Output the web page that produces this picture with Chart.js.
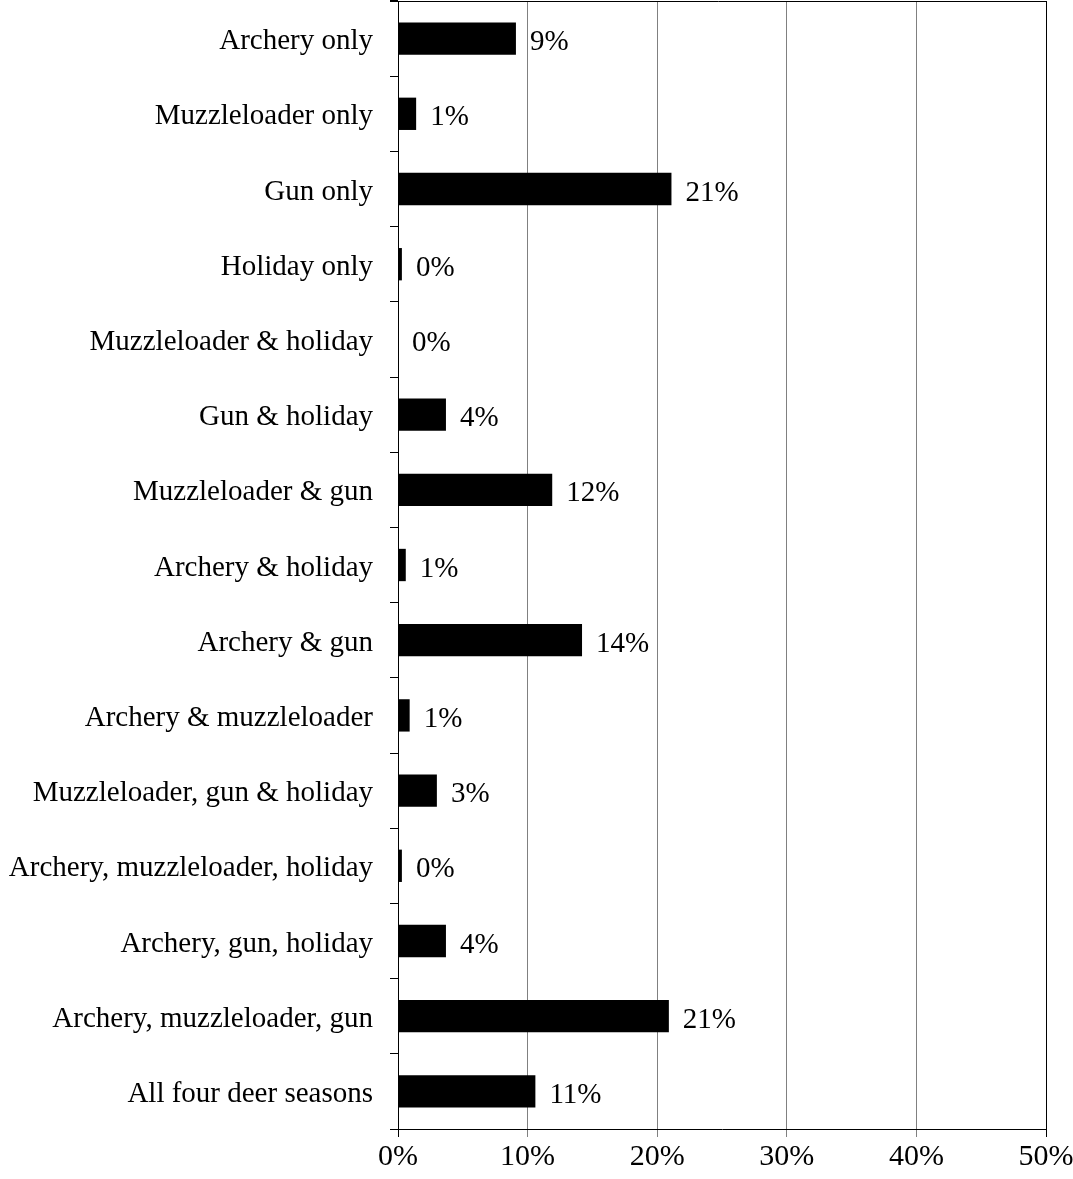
<!DOCTYPE html>
<html>
<head>
<meta charset="utf-8">
<script src="https://cdn.jsdelivr.net/npm/chart.js@4/dist/chart.umd.min.js"></script>
<style>
  body { margin: 0; background: #fff; }
  canvas { display: block; }
</style>
</head>
<body>
<canvas id="chart" width="1073" height="1179"></canvas>
<script>
// season combinations (top to bottom)
const categories = [
  'Archery only',
  'Muzzleloader only',
  'Gun only',
  'Holiday only',
  'Muzzleloader & holiday',
  'Gun & holiday',
  'Muzzleloader & gun',
  'Archery & holiday',
  'Archery & gun',
  'Archery & muzzleloader',
  'Muzzleloader, gun & holiday',
  'Archery, muzzleloader, holiday',
  'Archery, gun, holiday',
  'Archery, muzzleloader, gun',
  'All four deer seasons'
];

// percent of hunters
const shares = [9.1, 1.4, 21.1, 0.3, 0, 3.7, 11.9, 0.6, 14.2, 0.9, 3.0, 0.3, 3.7, 20.9, 10.6];

// printed value labels
const shareLabels = ['9%', '1%', '21%', '0%', '0%', '4%', '12%', '1%', '14%', '1%', '3%', '0%', '4%', '21%', '11%'];

const xTicks = [0, 10, 20, 30, 40, 50];

const FONT = '"Liberation Serif", "Times New Roman", serif';

// value labels to the right of each bar
const barLabels = {
  id: 'barLabels',
  afterDatasetsDraw(chart) {
    const {ctx} = chart;
    const meta = chart.getDatasetMeta(0);
    ctx.save();
    ctx.font = '29px ' + FONT;
    ctx.fillStyle = '#000';
    ctx.textAlign = 'left';
    ctx.textBaseline = 'middle';
    meta.data.forEach((bar, i) => {
      ctx.fillText(shareLabels[i], bar.x + 14, bar.y + 4);
    });
    ctx.restore();
  }
};

// top and right frame lines
const frame = {
  id: 'frame',
  afterDraw(chart) {
    const {ctx, chartArea: a} = chart;
    ctx.save();
    ctx.strokeStyle = '#000';
    ctx.lineWidth = 1;
    ctx.beginPath();
    const t = Math.round(a.top) + 0.5, r = Math.round(a.right) + 0.5;
    ctx.moveTo(Math.round(a.left) - 8, t);
    ctx.lineTo(r, t);
    ctx.lineTo(r, Math.round(a.bottom));
    ctx.stroke();
    ctx.restore();
  }
};

const ctx = document.getElementById('chart').getContext('2d');
new Chart(ctx, {
  type: 'bar',
  data: {
    labels: categories,
    datasets: [{
      data: shares,
      backgroundColor: '#000',
      borderWidth: 0,
      barPercentage: 0.43,
      categoryPercentage: 1
    }]
  },
  plugins: [barLabels, frame],
  options: {
    indexAxis: 'y',
    responsive: false,
    animation: false,
    layout: { padding: { top: 1, right: 27, left: 0, bottom: 0 } },
    plugins: {
      legend: { display: false },
      tooltip: { enabled: false }
    },
    scales: {
      x: {
        type: 'linear',
        min: 0,
        max: 50,
        afterBuildTicks: (scale) => { scale.ticks = xTicks.map(v => ({value: v})); },
        ticks: {
          color: '#000',
          font: { family: FONT, size: 30 },
          padding: 2,
          maxRotation: 0,
          callback: (v) => v + '%'
        },
        grid: {
          color: (c) => (c.tick && (c.tick.value === 0 || c.tick.value === 50)) ? '#000' : '#808080',
          lineWidth: 1,
          tickLength: 8
        },
        border: { color: '#000', width: 1 },
        afterFit: (scale) => {
          scale.height = 50;
          scale.paddingLeft = 0;
          scale.paddingRight = 0;
        }
      },
      y: {
        type: 'category',
        ticks: {
          color: '#000',
          font: { family: FONT, size: 29 },
          padding: 17,
          labelOffset: 3
        },
        grid: {
          offset: true,
          drawOnChartArea: false,
          color: '#000',
          tickLength: 8
        },
        border: { color: '#000', width: 1 },
        afterFit: (scale) => {
          scale.width = 398;
          scale.paddingTop = 0;
          scale.paddingBottom = 0;
        }
      }
    }
  }
});
</script>
</body>
</html>
